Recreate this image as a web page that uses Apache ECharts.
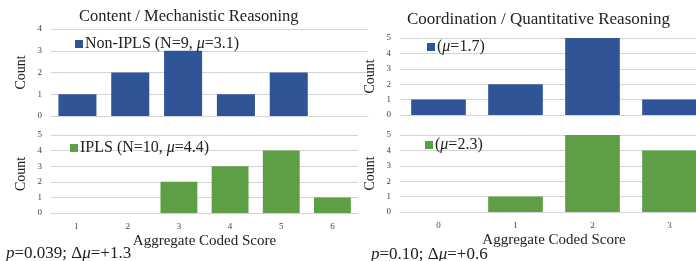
<!DOCTYPE html>
<html>
<head>
<meta charset="utf-8">
<script src="https://cdn.jsdelivr.net/npm/echarts@6/dist/echarts.min.js"></script>
<style>
  html, body { margin: 0; padding: 0; background: #fff; }
  #chart { width: 696px; height: 261px; }
</style>
</head>
<body>
<div id="chart"></div>
<script>
// score categories
var contentScores = ['1', '2', '3', '4', '5', '6'];
var coordScores = ['0', '1', '2', '3'];

// counts per score
var contentNonIpls = [1, 2, 3, 1, 2, 0];
var contentIpls = [0, 0, 2, 3, 4, 1];
var coordNonIpls = [1, 2, 5, 1];
var coordIpls = [0, 1, 5, 4];

var FONT = 'Liberation Serif';
var BLUE = '#2F5597';
var GREEN = '#5E9E46';
var GRID_LINE = '#d4d4d4';

function richSet(size) {
    return {
        n: { fontFamily: FONT, fontSize: size, color: '#222', fontWeight: 'normal' },
        i: { fontFamily: FONT, fontSize: size, color: '#222', fontWeight: 'normal', fontStyle: 'italic' }
    };
}

function xAxis(gridIndex, cats, showLabels) {
    return {
        type: 'category',
        gridIndex: gridIndex,
        data: cats,
        axisTick: { show: false },
        axisLine: { show: true, lineStyle: { color: GRID_LINE } },
        axisLabel: { show: showLabels, fontFamily: FONT, fontSize: 9, color: '#444', margin: 9 },
        name: showLabels ? 'Aggregate Coded Score' : '',
        nameLocation: 'middle',
        nameGap: 21,
        nameTextStyle: { fontFamily: FONT, fontSize: 15, color: '#222' }
    };
}

function yAxis(gridIndex, max) {
    return {
        type: 'value',
        gridIndex: gridIndex,
        min: 0,
        max: max,
        interval: 1,
        axisLabel: { fontFamily: FONT, fontSize: 9, color: '#444', margin: 9 },
        splitLine: { lineStyle: { color: GRID_LINE } },
        name: 'Count',
        nameLocation: 'middle',
        nameGap: 23,
        nameTextStyle: { fontFamily: FONT, fontSize: 14, color: '#222' }
    };
}

// legend text with italic mu
function muText(n) {
    return '{n|' + n.replace('μ', '}{i|μ}{n|') + '}';
}

function legend(name, left, top) {
    return {
        data: [name],
        left: left,
        top: top,
        icon: 'rect',
        itemWidth: 8,
        itemHeight: 8,
        itemGap: 3,
        formatter: muText,
        textStyle: { rich: richSet(16), padding: [0, 0, 0, -3] }
    };
}

function grid(left, top, width, height) {
    return { left: left, top: top, width: width, height: height, outerBoundsMode: 'none' };
}

var option = {
    animation: false,
    title: [
        { text: 'Content / Mechanistic Reasoning', left: 74, top: 3,
          textStyle: { fontFamily: FONT, fontSize: 16.5, fontWeight: 'normal', color: '#222' } },
        { text: 'Coordination / Quantitative Reasoning', left: 402, top: 6,
          textStyle: { fontFamily: FONT, fontSize: 17, fontWeight: 'normal', color: '#222' } },
        { text: '{i|p}{n|=0.039; Δ}{i|μ}{n|=+1.3}', left: 1, top: 240,
          textStyle: { rich: richSet(17) } },
        { text: '{i|p}{n|=0.10; Δ}{i|μ}{n|=+0.6}', left: 366, top: 241,
          textStyle: { rich: richSet(17) } }
    ],
    legend: [
        legend('Non-IPLS (N=9, μ=3.1)', 70, 31),
        legend('IPLS (N=10, μ=4.4)', 65, 135),
        legend('(μ=1.7)', 422, 34),
        legend('(μ=2.3)', 420, 132)
    ],
    grid: [
        grid(51, 29, 317, 87),
        grid(51, 135, 307, 78),
        grid(400, 38, 308, 77),
        grid(400, 135, 308, 77)
    ],
    xAxis: [
        xAxis(0, contentScores, false),
        xAxis(1, contentScores, true),
        xAxis(2, coordScores, false),
        xAxis(3, coordScores, true)
    ],
    yAxis: [
        yAxis(0, 4),
        yAxis(1, 5),
        yAxis(2, 5),
        yAxis(3, 5)
    ],
    series: [
        { name: 'Non-IPLS (N=9, μ=3.1)', type: 'bar', xAxisIndex: 0, yAxisIndex: 0,
          data: contentNonIpls, barCategoryGap: '28%', itemStyle: { color: BLUE } },
        { name: 'IPLS (N=10, μ=4.4)', type: 'bar', xAxisIndex: 1, yAxisIndex: 1,
          data: contentIpls, barCategoryGap: '28%', itemStyle: { color: GREEN } },
        { name: '(μ=1.7)', type: 'bar', xAxisIndex: 2, yAxisIndex: 2,
          data: coordNonIpls, barCategoryGap: '29%', itemStyle: { color: BLUE } },
        { name: '(μ=2.3)', type: 'bar', xAxisIndex: 3, yAxisIndex: 3,
          data: coordIpls, barCategoryGap: '29%', itemStyle: { color: GREEN } }
    ]
};

var myChart = echarts.init(document.getElementById('chart'));
myChart.setOption(option);
</script>
</body>
</html>
